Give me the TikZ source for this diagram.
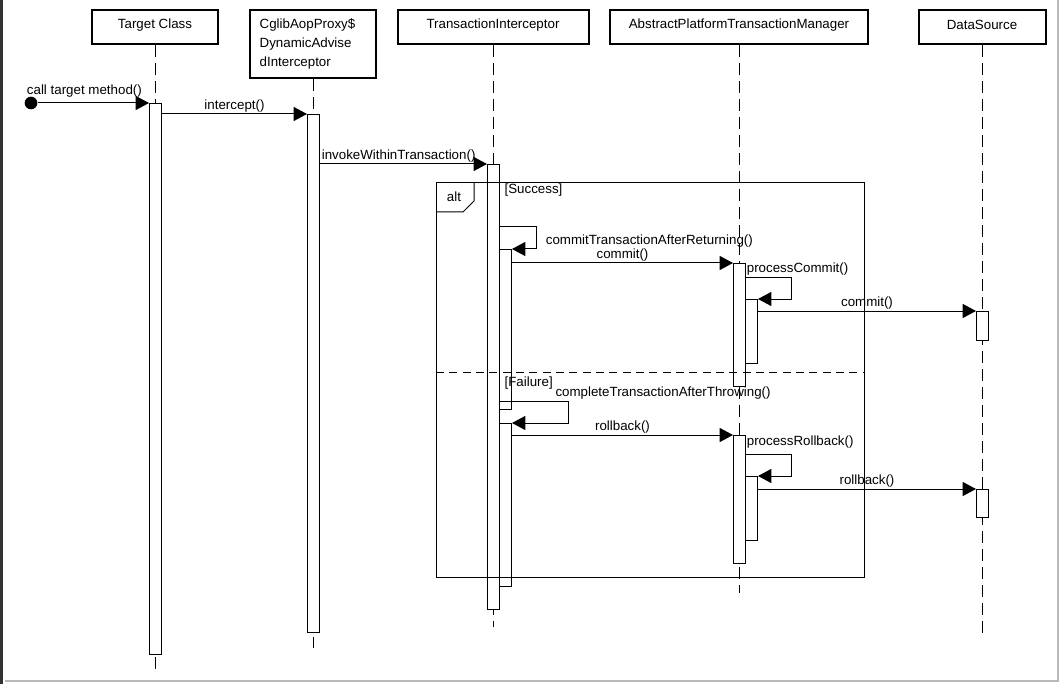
\documentclass[tikz,border=0pt]{standalone}
\usepackage{fontspec}
\setmainfont{Liberation Sans}
\usepackage{tikz}
\usetikzlibrary{arrows.meta,positioning,calc,shapes.geometric}
\tikzstyle{head} = [rectangle, minimum width=94.5pt, minimum height=25.5pt, text centered, text depth=4.5pt, draw=black, line width=1.5pt, fill=white]
\tikzstyle{life} = [dash pattern=on 9pt off 4.5pt, line width=0.75pt]
\tikzstyle{arrow} = [line width=0.75pt, -{Triangle[length=10pt,width=10.5pt]}]
\tikzstyle{lbl} = [inner sep=1pt]
\tikzstyle{start} = [circle, fill=black, minimum size=9.5pt, inner sep=0pt]
\tikzstyle{frame} = [line width=0.75pt, draw=black]
\tikzstyle{sep} = [line width=0.75pt, dash pattern=on 6pt off 4pt]
\tikzset{act/.style={rectangle, draw=black, line width=0.75pt, fill=white, inner sep=0pt, anchor=north west, minimum width=9pt, minimum height=#1*0.75pt}}

\begin{document}
\begin{tikzpicture}[node distance=118.5pt, x=0.75pt, y=-0.75pt, font=\fontsize{10}{14.25}\selectfont]
\useasboundingbox (0,0) rectangle (1063,684);
% window border
\draw [black!80, line width=1.5pt] (1.5,0) -- (1.5,684);
\draw [gray!55, line width=1.5pt] (1057.5,0) -- (1057.5,680.5) -- (5,680.5);

% objects
\node (tc) [head] at (155,27) {Target Class};
\node (cg) [head, text depth=, minimum height=51pt, text width=80pt, align=left, right of=tc, yshift=-12.75pt] {CglibAopProxy\$\\DynamicAdvise\\dInterceptor};
\node (ti) [head, minimum width=143.25pt, right of=cg, xshift=16.5pt, yshift=12.75pt] {TransactionInterceptor};
\node (pm) [head, minimum width=193.5pt, right of=ti, xshift=66pt] {AbstractPlatformTransactionManager};
\node (ds) [head, minimum width=95.25pt, text depth=3pt, right of=pm, xshift=63.75pt] {DataSource};

% lifelines
\coordinate (tce) at (155,672);
\coordinate (cge) at (313,648);
\coordinate (tie) at (493,627);
\coordinate (pme) at (739,593);
\coordinate (dse) at (982,637);
\draw [life] (tc) -- (tce);
\draw [life] (cg) -- (cge);
\draw [life] (ti) -- (tie);
\draw [life] (pm) -- (pme);
\draw [life] (ds) -- (dse);

% activations
\node (tcb) [act=551] at (149,103) {};
\node (cgb) [act=518] at (307,114) {};
\node (tib) [act=445] at (487,164) {};
\node (ti1) [act=160] at (499,249) {};
\node (ti2) [act=163] at (499,423) {};
\node (pm1) [act=123] at (733,263) {};
\node (pn1) [act=64] at (745,299) {};
\node (pm2) [act=128] at (733,435) {};
\node (pn2) [act=64] at (745,476) {};
\node (ds1) [act=29] at (976,311) {};
\node (ds2) [act=28] at (976,489) {};

% messages
\node (st) [start] at (31,103) {};
\draw [arrow] (st) -- node (m0) [lbl, above, pos=0.42, yshift=3pt] {call target method()} (tcb.north west);
\draw [arrow] (tcb.east |- cgb.north) -- node (m1) [lbl, above] {intercept()} (cgb.north west);
\draw [arrow] (cgb.east |- tib.north) -- node (m2) [lbl, anchor=south west, pos=0] {invokeWithinTransaction()} (tib.north west);
\draw [arrow] ($(ti1.north west)+(0,-22)$) -- ++(37,0) -- node (m3) [lbl, right, xshift=6pt, yshift=-2pt] {commitTransactionAfterReturning()} ++(0,22) -- (ti1.north east);
\draw [arrow] (ti1.east |- pm1.north) -- node (m4) [lbl, above] {commit()} (pm1.north west);
\draw [arrow] ($(pn1.north west)+(0,-22)$) node (m5) [lbl, anchor=south west] {processCommit()} -- ++(46,0) -- ++(0,22) -- (pn1.north east);
\draw [arrow] (pn1.east |- ds1.north) -- node (m6) [lbl, above] {commit()} (ds1.north west);
\draw [arrow] ($(ti2.north west)+(0,-22)$) node (m7) [lbl, anchor=south west, xshift=41pt] {completeTransactionAfterThrowing()} -- ++(69,0) -- ++(0,22) -- (ti2.north east);
\draw [arrow] (ti2.east |- pm2.north) -- node (m8) [lbl, above] {rollback()} (pm2.north west);
\draw [arrow] ($(pn2.north west)+(0,-22)$) node (m9) [lbl, anchor=south west, yshift=3pt] {processRollback()} -- ++(46,0) -- ++(0,22) -- (pn2.north east);
\draw [arrow] (pn2.east |- ds2.north) -- node (m10) [lbl, above] {rollback()} (ds2.north west);

% alt fragment
\draw [frame] (436,183) rectangle (864,577);
\draw [frame] (436,212) -- (463,212) -- (474,201) -- (474,183);
\node (alt) [lbl] at (454,197) {alt};
\draw [sep] (436,372) -- (864,372);
\node (sg) [lbl, anchor=north west] at (503,182) {[Success]};
\node (fg) [lbl, anchor=north west] at (503,375) {[Failure]};
\end{tikzpicture}
\end{document}
